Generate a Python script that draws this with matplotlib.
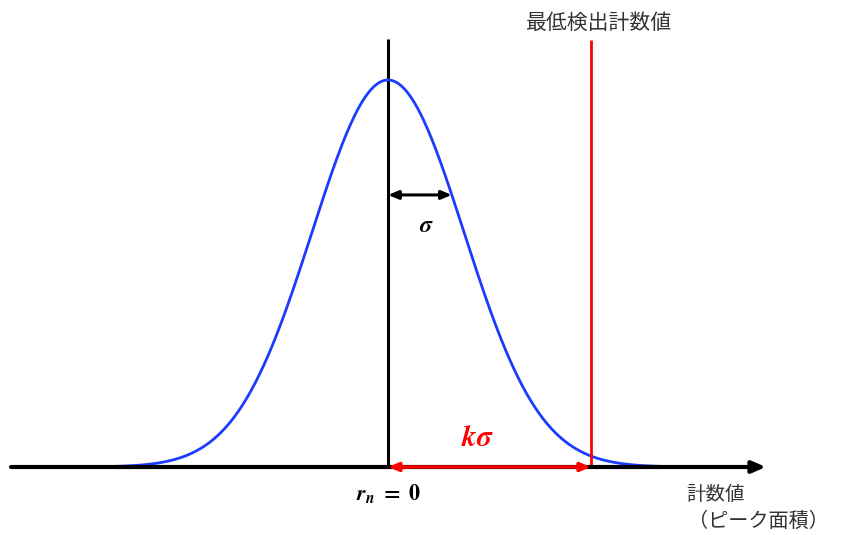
import numpy as np
import matplotlib.pyplot as plt

plt.rcParams['font.family'] = ['Noto Sans CJK JP', 'DejaVu Sans']
plt.rcParams['mathtext.fontset'] = 'stix'

# distribution parameters (in units of sigma)
mu = 0.0
sigma = 1.0
k = 2.67          # detection limit = k * sigma
tail = 3.65       # extent of the drawn curve
sigma_level = 0.703  # height where the sigma arrow is drawn

title_label = '最低検出計数値'
x_label_1 = '計数値'
x_label_2 = '（ピーク面積）'

x = np.linspace(mu - tail * sigma, mu + tail * sigma, 400)
y = np.exp(-0.5 * ((x - mu) / sigma) ** 2)

fig = plt.figure(figsize=(8.41, 5.35), dpi=100)
ax = fig.add_axes([0, 0, 1, 1])
ax.set_xlim(-5.105, 5.96)
ax.set_ylim(-0.1757, 1.2067)
ax.axis('off')

# horizontal axis with arrow
ax.annotate('', xy=(4.97, 0), xytext=(-4.96, 0),
            arrowprops=dict(arrowstyle='-|>,head_length=0.8,head_width=0.35',
                            color='black', lw=3, shrinkA=0, shrinkB=0))

# vertical line at mean
ax.plot([mu, mu], [0, 1.105], color='black', lw=2.2, solid_capstyle='butt')

# gaussian
ax.plot(x, y, color='#1a3cff', lw=2.0)

# detection limit line
ax.plot([k, k], [0, 1.103], color='#ff0000', lw=2.0, solid_capstyle='butt')
ax.text(k + 0.1, 1.148, title_label, fontsize=15, color='#333333',
        ha='center', va='center')

# sigma arrow
xs = sigma * np.sqrt(-2 * np.log(sigma_level))
ax.annotate('', xy=(mu, sigma_level), xytext=(xs, sigma_level),
            arrowprops=dict(arrowstyle='<|-|>,head_length=0.6,head_width=0.25',
                            color='black', lw=2.2, shrinkA=0, shrinkB=0))
ax.text(0.51, 0.625, r'$\mathbfit{\sigma}$', fontsize=17, color='black',
        ha='center', va='center')

# k sigma arrow
ax.annotate('', xy=(mu, 0), xytext=(k, 0),
            arrowprops=dict(arrowstyle='<|-|>,head_length=0.6,head_width=0.25',
                            color='#ff0000', lw=2.5, shrinkA=0, shrinkB=0))
ax.text(1.18, 0.075, r'$\mathbfit{k\sigma}$', fontsize=21, color='#ff0000',
        ha='center', va='center')

ax.text(0.01, -0.068, r'$\mathbfit{r_n}\ \mathbf{=\ 0}$', fontsize=16,
        color='black', ha='center', va='center')

# axis label
ax.text(3.92, -0.07, x_label_1, fontsize=14, color='#333333',
        ha='left', va='center')
ax.text(4.88, -0.14, x_label_2, fontsize=14.5, color='#333333',
        ha='center', va='center')

fig.savefig('out.png', dpi=100)
